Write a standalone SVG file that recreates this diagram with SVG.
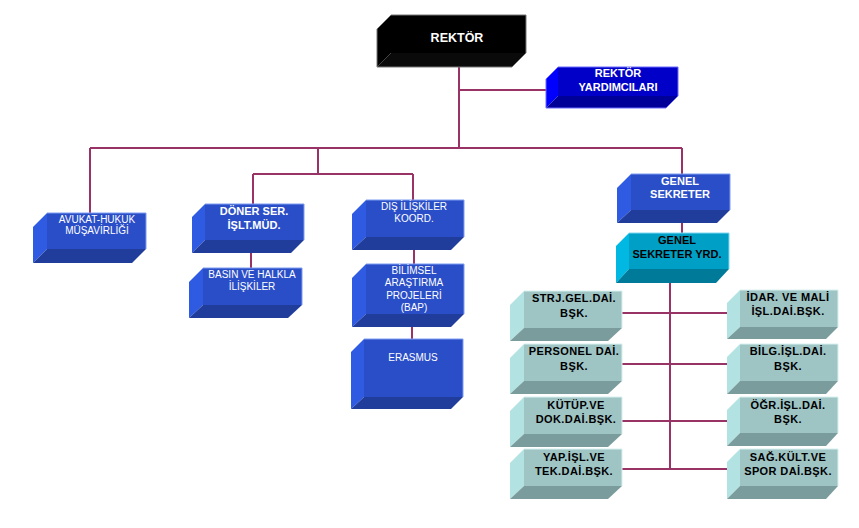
<svg xmlns="http://www.w3.org/2000/svg" width="859" height="528" viewBox="0 0 859 528">
<style>
text{font-family:"Liberation Sans",Arial,sans-serif;text-anchor:middle}
.w{fill:#fff;font-size:10px}
.wb{fill:#fff;font-size:11px;font-weight:bold}
.kb{fill:#000;font-size:11px;font-weight:bold}
.ts{letter-spacing:0.4px}
.conn{stroke:#993366;stroke-width:2;fill:none}
.bf{fill:#2a4ec8}.bl{fill:#2f5be3}.bb{fill:#213d9c}
.kf{fill:#000}.kl{fill:#000}.kk{fill:#0a0a0a}
.nf{fill:#0000c8}.nl{fill:#0000ff}.nb{fill:#000099}
.cf{fill:#00a0c6}.cl{fill:#00b8e2}.cb{fill:#007a99}
.tf{fill:#9fc4c4}.tl{fill:#b2e2e2}.tb{fill:#7a9c9c}
.edge{fill:none;stroke:#7f9cf0;stroke-width:1}
.kedge{fill:none;stroke:#777;stroke-width:1}
.tedge{fill:none;stroke:#d8f0f0;stroke-width:1}
</style>
<g id="connectors">
<path class="conn" d="M459,67V148M459,90H546M90,148H682M90,148V213M318,148V174M253,174H413M253,174V204M413,174V200M682,148V174M251,253V268M414,250V264M412,327V339M682,223V233M670,283V469M622,313H727M622,364H727M622,421H727M622,469H727"/>
</g>
<g id="rektor">
<rect class="kf" x="391" y="15" width="135" height="38"/>
<polygon class="kl" points="377,29 391,15 391,53 377,67"/>
<polygon class="kk" points="377,67 391,53 526,53 512,67"/>
<polygon class="kedge" points="377,29 391,15 526,15 526,53 512,67 377,67"/>
<text class="wb" style="font-size:12.5px" x="457" y="42">REKTÖR</text>
</g>
<g id="rektor-yard">
<rect class="nf" x="558" y="67" width="120" height="29"/>
<polygon class="nl" points="546,79 558,67 558,96 546,108"/>
<polygon class="nb" points="546,108 558,96 678,96 666,108"/>
<polygon points="546,79 558,67 678,67 678,96 666,108 546,108" fill="none" stroke="#6a6aff" stroke-width="1"/>
<text class="wb" x="618" y="77">REKTÖR</text>
<text class="wb" x="618" y="91">YARDIMCILARI</text>
</g>
<g id="avukat">
<rect class="bf" x="47" y="213" width="99" height="36"/>
<polygon class="bl" points="33,227 47,213 47,249 33,263"/>
<polygon class="bb" points="33,263 47,249 146,249 132,263"/>
<polyline class="edge" points="47,213 146,213 146,249"/>
<text class="w" x="97" y="223">AVUKAT-HUKUK</text>
<text class="w" x="97" y="234">MÜŞAVİRLİĞİ</text>
</g>
<g id="doner">
<rect class="bf" x="205" y="204" width="99" height="36"/>
<polygon class="bl" points="192,217 205,204 205,240 192,253"/>
<polygon class="bb" points="192,253 205,240 304,240 291,253"/>
<polyline class="edge" points="205,204 304,204 304,240"/>
<text class="wb" x="254" y="215">DÖNER SER.</text>
<text class="wb" x="254" y="229">İŞLT.MÜD.</text>
</g>
<g id="basin">
<rect class="bf" x="203" y="268" width="99" height="37"/>
<polygon class="bl" points="189,282 203,268 203,305 189,318"/>
<polygon class="bb" points="189,318 203,305 302,305 288,318"/>
<polyline class="edge" points="203,268 302,268 302,305"/>
<text class="w" x="252" y="278">BASIN VE HALKLA</text>
<text class="w" x="252" y="290">İLİŞKİLER</text>
</g>
<g id="dis">
<rect class="bf" x="366" y="200" width="98" height="37"/>
<polygon class="bl" points="352,214 366,200 366,237 352,250"/>
<polygon class="bb" points="352,250 366,237 464,237 451,250"/>
<polyline class="edge" points="366,200 464,200 464,237"/>
<text class="w" x="414" y="210">DIŞ İLİŞKİLER</text>
<text class="w" x="414" y="222">KOORD.</text>
</g>
<g id="bilimsel">
<rect class="bf" x="366" y="264" width="98" height="50"/>
<polygon class="bl" points="352,278 366,264 366,314 352,327"/>
<polygon class="bb" points="352,327 366,314 464,314 451,327"/>
<polyline class="edge" points="366,264 464,264 464,314"/>
<text class="w" x="414" y="274">BİLİMSEL</text>
<text class="w" x="414" y="286">ARAŞTIRMA</text>
<text class="w" x="414" y="299">PROJELERİ</text>
<text class="w" x="414" y="311">(BAP)</text>
</g>
<g id="erasmus">
<rect class="bf" x="364" y="339" width="99" height="58"/>
<polygon class="bl" points="351,352 364,339 364,397 351,409"/>
<polygon class="bb" points="351,409 364,397 463,397 451,409"/>
<polyline class="edge" points="364,339 463,339 463,397"/>
<text class="w" x="413" y="361">ERASMUS</text>
</g>
<g id="genel-sekreter">
<rect class="bf" x="631" y="174" width="99" height="36"/>
<polygon class="bl" points="617,188 631,174 631,210 617,223"/>
<polygon class="bb" points="617,223 631,210 730,210 717,223"/>
<polyline class="edge" points="631,174 730,174 730,210"/>
<text class="wb" x="680" y="185">GENEL</text>
<text class="wb" x="680" y="198">SEKRETER</text>
</g>
<g id="genel-sekreter-yrd">
<rect class="cf" x="629" y="233" width="100" height="36"/>
<polygon class="cl" points="616,246 629,233 629,269 616,283"/>
<polygon class="cb" points="616,283 629,269 729,269 716,283"/>
<polyline points="629,233 729,233 729,269" fill="none" stroke="#7fd8f0" stroke-width="1"/>
<text class="kb" x="677" y="244">GENEL</text>
<text class="kb" x="677" y="258">SEKRETER YRD.</text>
</g>
<g id="strj">
<rect class="tf" x="524" y="291" width="98" height="37"/>
<polygon class="tl" points="510,305 524,291 524,328 510,341"/>
<polygon class="tb" points="510,341 524,328 622,328 608,341"/>
<polyline class="tedge" points="524,291 622,291 622,328"/>
<text class="kb ts" x="574" y="302">STRJ.GEL.DAİ.</text>
<text class="kb ts" x="574" y="317">BŞK.</text>
</g>
<g id="personel">
<rect class="tf" x="524" y="344" width="98" height="37"/>
<polygon class="tl" points="510,358 524,344 524,381 510,394"/>
<polygon class="tb" points="510,394 524,381 622,381 608,394"/>
<polyline class="tedge" points="524,344 622,344 622,381"/>
<text class="kb ts" x="574" y="355">PERSONEL DAİ.</text>
<text class="kb ts" x="574" y="370">BŞK.</text>
</g>
<g id="kutup">
<rect class="tf" x="524" y="397" width="98" height="37"/>
<polygon class="tl" points="510,411 524,397 524,434 510,447"/>
<polygon class="tb" points="510,447 524,434 622,434 608,447"/>
<polyline class="tedge" points="524,397 622,397 622,434"/>
<text class="kb ts" x="576" y="409">KÜTÜP.VE</text>
<text class="kb ts" x="576" y="423">DOK.DAİ.BŞK.</text>
</g>
<g id="yap">
<rect class="tf" x="524" y="449" width="98" height="37"/>
<polygon class="tl" points="510,463 524,449 524,486 510,499"/>
<polygon class="tb" points="510,499 524,486 622,486 608,499"/>
<polyline class="tedge" points="524,449 622,449 622,486"/>
<text class="kb ts" x="574" y="461">YAP.İŞL.VE</text>
<text class="kb ts" x="574" y="475">TEK.DAİ.BŞK.</text>
</g>
<g id="idar">
<rect class="tf" x="740" y="290" width="98" height="37"/>
<polygon class="tl" points="727,303 740,290 740,327 727,339"/>
<polygon class="tb" points="727,339 740,327 838,327 826,339"/>
<polyline class="tedge" points="740,290 838,290 838,327"/>
<text class="kb ts" x="788" y="301">İDAR. VE MALİ</text>
<text class="kb ts" x="788" y="315">İŞL.DAİ.BŞK.</text>
</g>
<g id="bilg">
<rect class="tf" x="740" y="344" width="98" height="37"/>
<polygon class="tl" points="727,357 740,344 740,381 727,394"/>
<polygon class="tb" points="727,394 740,381 838,381 826,394"/>
<polyline class="tedge" points="740,344 838,344 838,381"/>
<text class="kb ts" x="788" y="355">BİLG.İŞL.DAİ.</text>
<text class="kb ts" x="788" y="370">BŞK.</text>
</g>
<g id="ogr">
<rect class="tf" x="740" y="397" width="98" height="36"/>
<polygon class="tl" points="727,410 740,397 740,433 727,446"/>
<polygon class="tb" points="727,446 740,433 838,433 826,446"/>
<polyline class="tedge" points="740,397 838,397 838,433"/>
<text class="kb ts" x="788" y="409">ÖĞR.İŞL.DAİ.</text>
<text class="kb ts" x="788" y="423">BŞK.</text>
</g>
<g id="sag">
<rect class="tf" x="740" y="449" width="98" height="37"/>
<polygon class="tl" points="727,462 740,449 740,486 727,499"/>
<polygon class="tb" points="727,499 740,486 838,486 826,499"/>
<polyline class="tedge" points="740,449 838,449 838,486"/>
<text class="kb ts" x="788" y="461">SAĞ.KÜLT.VE</text>
<text class="kb ts" x="788" y="475">SPOR DAİ.BŞK.</text>
</g>
</svg>
